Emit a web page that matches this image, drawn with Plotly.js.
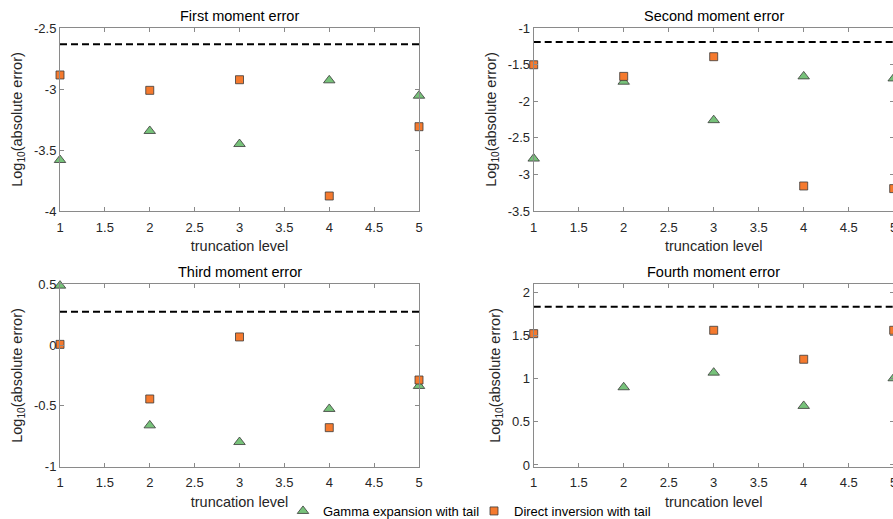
<!DOCTYPE html>
<html>
<head>
<meta charset="utf-8">
<script src="https://cdn.plot.ly/plotly-3.0.1.min.js"></script>
<style>
html,body{margin:0;padding:0;overflow:hidden;background:#fff;width:893px;height:519px;}
#chart{width:910px;height:519px;}
</style>
</head>
<body>
<div id="chart"></div>
<script>
// ---- data ----
const truncLevels = [1, 2, 3, 4, 5];
const panelTitles = ["First moment error", "Second moment error", "Third moment error", "Fourth moment error"];
const gammaFirst  = [-3.582, -3.344, -3.451, -2.929, -3.055];
const directFirst = [-2.885, -3.011, -2.924, -3.877, -3.309];
const gammaSecond  = [-2.784, -1.734, -2.259, -1.661, -1.689];
const directSecond = [-1.502, -1.661, -1.392, -3.158, -3.194];
const gammaThird  = [0.489, -0.660, -0.797, -0.525, -0.336];
const directThird = [0.006, -0.443, 0.067, -0.679, -0.287];
const gammaFourth  = [2.100, 0.899, 1.068, 0.683, 1.003];
const directFourth = [1.519, -0.032, 1.558, 1.223, 1.558];
const refLevels = [-2.634, -1.192, 0.275, 1.830];
const xTicks = [1, 1.5, 2, 2.5, 3, 3.5, 4, 4.5, 5];
const yTicks1 = [-4, -3.5, -3, -2.5];
const yTicks2 = [-3.5, -3, -2.5, -2, -1.5, -1];
const yTicks3 = [-1, -0.5, 0, 0.5];
const yTicks4 = [0, 0.5, 1, 1.5, 2];
const seriesNames = ["Gamma expansion with tail", "Direct inversion with tail"];

// ---- layout geometry ----
const W = 910, H = 519;
const xDomL = [60 / W, 419 / W];
const xDomR = [533.7 / W, 893.7 / W];
const yDomT = [(H - 211) / H, (H - 28) / H];
const yDomB = [(H - 466.7) / H, (H - 284.3) / H];

const gammaSets = [gammaFirst, gammaSecond, gammaThird, gammaFourth];
const directSets = [directFirst, directSecond, directThird, directFourth];
const yTickSets = [yTicks1, yTicks2, yTicks3, yTicks4];
const yRanges = [[-4, -2.5], [-3.5, -1], [-1, 0.5], [-0.02, 2.09]];

const FONT = "Liberation Sans, Arial, Helvetica, sans-serif";
const traces = [];
for (let i = 0; i < 4; i++) {
  const xa = i === 0 ? "x" : "x" + (i + 1);
  const ya = i === 0 ? "y" : "y" + (i + 1);
  traces.push({
    x: [truncLevels[0], truncLevels[truncLevels.length - 1]],
    y: [refLevels[i], refLevels[i]],
    xaxis: xa, yaxis: ya, mode: "lines", showlegend: false, hoverinfo: "skip",
    line: {color: "#000", width: 2, dash: "7px,4px"}
  });
  traces.push({
    x: truncLevels, y: gammaSets[i], xaxis: xa, yaxis: ya, mode: "markers",
    name: seriesNames[0], showlegend: i === 0, legend: "legend", cliponaxis: false,
    marker: {symbol: "triangle-up", size: 10, color: "#77c27a", line: {color: "#3a3a3a", width: 0.8}}
  });
  traces.push({
    x: truncLevels, y: directSets[i], xaxis: xa, yaxis: ya, mode: "markers",
    name: seriesNames[1], showlegend: i === 0, legend: "legend2", cliponaxis: false,
    marker: {symbol: "square", size: 8, color: "#f57a2e", line: {color: "#3a3a3a", width: 0.8}}
  });
}

const legendCommon = {orientation: "h", yanchor: "middle", y: (H - 511) / H, xanchor: "left",
  font: {family: FONT, size: 13, color: "#000"}, bgcolor: "rgba(0,0,0,0)", itemwidth: 30, borderwidth: 0};
const layout = {
  width: W, height: H,
  margin: {l: 0, r: 0, t: 0, b: 0, autoexpand: false},
  paper_bgcolor: "#fff", plot_bgcolor: "#fff",
  font: {family: FONT, size: 13, color: "#262626"},
  showlegend: true,
  legend: Object.assign({}, legendCommon, {x: (303 - 20) / W}),
  legend2: Object.assign({}, legendCommon, {x: (494 - 20) / W}),
  annotations: [],
};
const doms = [[xDomL, yDomT], [xDomR, yDomT], [xDomL, yDomB], [xDomR, yDomB]];
for (let i = 0; i < 4; i++) {
  const xk = i === 0 ? "xaxis" : "xaxis" + (i + 1);
  const yk = i === 0 ? "yaxis" : "yaxis" + (i + 1);
  const yAnchor = i === 0 ? "y" : "y" + (i + 1);
  const xAnchor = i === 0 ? "x" : "x" + (i + 1);
  const common = {
    showline: true, linecolor: "#8a8a8a", linewidth: 1, mirror: "ticks",
    ticks: "inside", ticklen: 4, tickcolor: "#8a8a8a", tickwidth: 1,
    showgrid: false, zeroline: false, fixedrange: true, automargin: false,
    tickfont: {family: FONT, size: 13, color: "#262626"}
  };
  layout[xk] = Object.assign({}, common, {
    domain: doms[i][0], anchor: yAnchor, range: [1, 5],
    tickmode: "array", tickvals: xTicks, ticktext: xTicks.map(String),
    ticklabelstandoff: 4,
    title: {text: "truncation level", font: {family: FONT, size: 14.5, color: "#262626"}, standoff: 7}
  });
  layout[yk] = Object.assign({}, common, {
    domain: doms[i][1], anchor: xAnchor, range: yRanges[i],
    tickmode: "array", tickvals: yTickSets[i], ticktext: yTickSets[i].map(String),
    title: {text: "Log<sub>10</sub>(absolute error)", font: {family: FONT, size: 14.5, color: "#262626"}, standoff: 7}
  });
  layout.annotations.push({
    text: panelTitles[i], xref: "paper", yref: "paper",
    x: (doms[i][0][0] + doms[i][0][1]) / 2, y: doms[i][1][1] + 12 / H,
    xanchor: "center", yanchor: "middle", showarrow: false,
    font: {family: FONT, size: 14.5, color: "#000"}
  });
}

Plotly.newPlot("chart", traces, layout, {displayModeBar: false, staticPlot: true});
</script>
</body>
</html>
